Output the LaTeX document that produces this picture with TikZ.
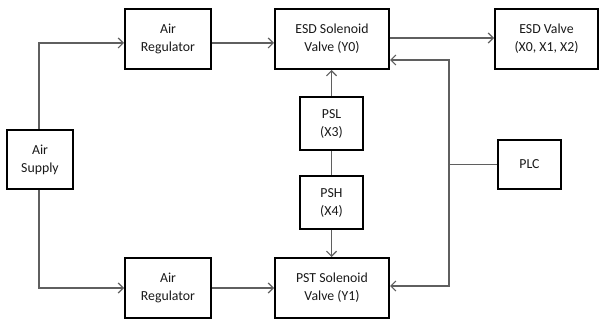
\documentclass[tikz,border=0pt]{standalone}
\usepackage{fontspec}
\setmainfont{Carlito}
\usetikzlibrary{arrows.meta,calc}
\definecolor{linegray}{RGB}{95,95,95}
\tikzset{
  blk/.style={draw=black, line width=2pt, align=center, inner sep=1pt,
    font=\fontsize{13.8}{18}\selectfont, text=black!90},
  conn/.style={draw=linegray, line width=1.3pt,
    -{Straight Barb[length=5pt,width=10pt,line width=1.2pt]}},
  plain/.style={draw=linegray, line width=1.3pt}
}
\begin{document}
\begin{tikzpicture}[x=1pt,y=-1pt]
\useasboundingbox (0,0) rectangle (600,320);
\node[blk, minimum width=66pt, minimum height=59pt] (sup) at (40,159.5) {Air\\Supply};
\node[blk, minimum width=86pt, minimum height=60pt] (reg1) at (168,39) {Air\\Regulator};
\node[blk, minimum width=86pt, minimum height=60pt] (reg2) at (168,288) {Air\\Regulator};
\node[blk, minimum width=114pt, minimum height=60pt] (esd) at (332,39) {ESD Solenoid\\Valve (Y0)};
\node[blk, minimum width=114pt, minimum height=60pt] (pst) at (332,288) {PST Solenoid\\Valve (Y1)};
\node[blk, minimum width=103pt, minimum height=60pt] (valve) at (546.5,39) {ESD Valve\\(X0, X1, X2)};
\node[blk, minimum width=63pt, minimum height=53pt] (psl) at (331.5,123.5) {PSL\\(X3)};
\node[blk, minimum width=63pt, minimum height=53pt] (psh) at (331.5,202.5) {PSH\\(X4)};
\node[blk, minimum width=63pt, minimum height=49pt] (plc) at (529.5,164.5) {PLC};
\coordinate (j) at (449,164.5);
% air supply to regulators
\draw[conn] ([xshift=-1pt]sup.north) |- ($(reg1.west)+(0,4)$);
\draw[conn] ([xshift=-1pt]sup.south) |- ($(reg2.west)+(0,0)$);
% regulators to solenoids
\draw[conn] ($(reg1.east)+(0,4)$) -- ($(esd.west)+(0,4)$);
\draw[conn] (reg2.east) -- (pst.west);
% ESD solenoid to valve
\draw[conn] ($(esd.east)+(0,-1)$) -- ($(valve.west)+(0,-1)$);
% pressure switches
\draw[conn] (psl.north) -- (psl.north |- esd.south);
\draw[plain] (psl.south) -- (psh.north);
\draw[conn] (psh.south) -- (psh.south |- pst.north);
% PLC
\draw[plain] (plc.west) -- (j);
\draw[conn] (j) |- ($(esd.east)+(0,21)$);
\draw[conn] (j) |- ($(pst.east)+(0,-2)$);
\end{tikzpicture}
\end{document}
